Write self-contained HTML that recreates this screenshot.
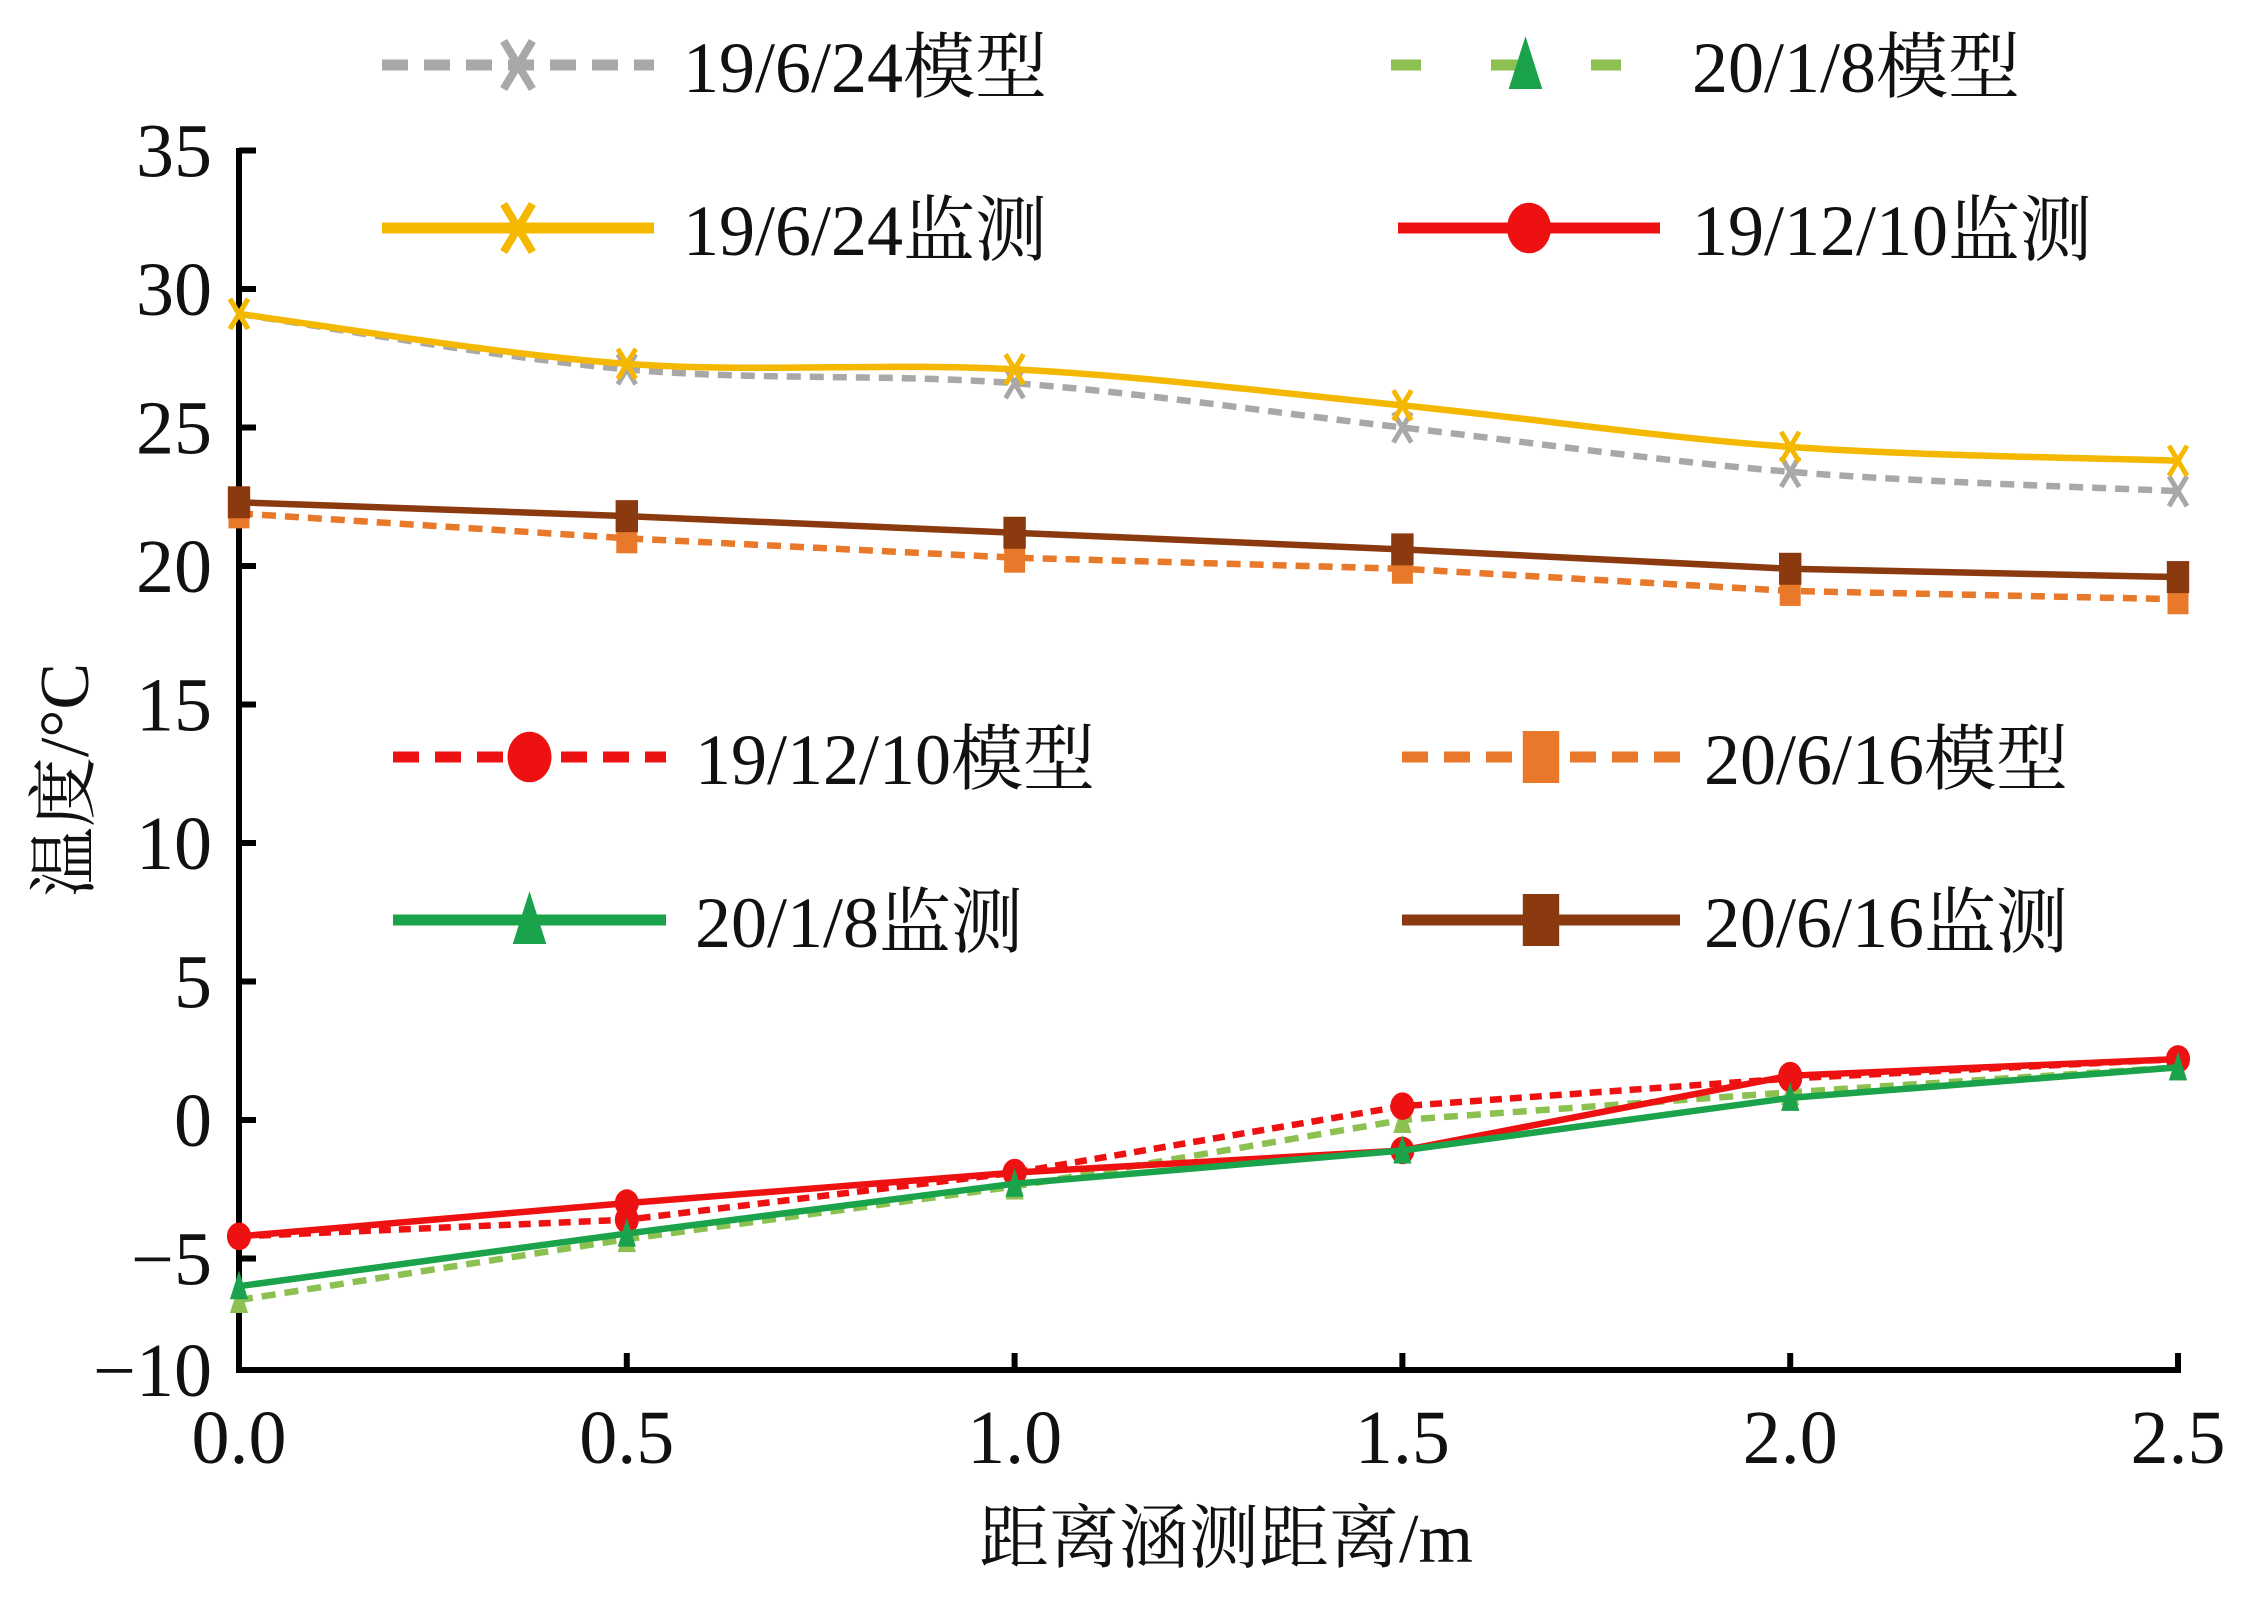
<!DOCTYPE html>
<html><head><meta charset="utf-8"><style>
html,body{margin:0;padding:0;background:#fff;}
svg{display:block;}
text{font-family:"Liberation Serif","Noto Serif CJK SC",serif;fill:#111;}
</style></head><body>
<svg id="chart" width="2265" height="1608" viewBox="0 0 2265 1608" xmlns="http://www.w3.org/2000/svg">
<g id="axes"></g>
<g id="series"></g>
<g id="legend"></g>
</svg>
<script>
const xCats = [0.0, 0.5, 1.0, 1.5, 2.0, 2.5];
const xTickLabels = ["0.0","0.5","1.0","1.5","2.0","2.5"];
const yTicks = [35,30,25,20,15,10,5,0,-5,-10];
const yTickLabels = ["35","30","25","20","15","10","5","0","\u22125","\u221210"];
const s1924mon = [29.1, 27.3, 27.1, 25.8, 24.3, 23.8];
const s1924mod = [29.1, 27.1, 26.6, 25.0, 23.4, 22.7];
const s2016mon = [22.3, 21.8, 21.2, 20.6, 19.9, 19.6];
const s2016mod = [21.9, 21.0, 20.3, 19.9, 19.1, 18.8];
const s1210mon = [-4.2, -3.0, -1.9, -1.1, 1.6, 2.2];
const s1210mod = [-4.2, -3.6, -1.9, 0.5, 1.5, 2.2];
const s0108mon = [-6.0, -4.1, -2.3, -1.1, 0.8, 1.9];
const s0108mod = [-6.5, -4.3, -2.4, 0.0, 1.0, 1.9];

const NS="http://www.w3.org/2000/svg";
const X0=239, X1=2178, AXY=1370;
const X = v => X0 + v/2.5*(X1-X0);
const Y = v => 1120 - v*27.7;
function mk(tag, attrs, parent){const e=document.createElementNS(NS,tag);for(const k in attrs)e.setAttribute(k,attrs[k]);parent.appendChild(e);return e;}
const axes=document.getElementById('axes');
let e;
e=mk('line',{x1:X0,y1:148,x2:X0,y2:AXY+2,stroke:'#000','stroke-width':6},axes);


e=mk('line',{x1:X0-3,y1:AXY,x2:X1+3,y2:AXY,stroke:'#000','stroke-width':6},axes);


yTicks.forEach((v,i)=>{
  const y = v===-10?AXY:Y(v);
  if(v!==-10){
    e=mk('line',{x1:X0,y1:y,x2:X0+17,y2:y,stroke:'#000','stroke-width':6},axes);
    
    
  }
  e=mk('text',{x:212,y:y+26,'font-size':76,'text-anchor':'end'},axes);
  e.textContent=yTickLabels[i];
  
  
});
xCats.forEach((v,i)=>{
  const x=X(v);
  e=mk('line',{x1:x,y1:AXY,x2:x,y2:AXY-17,stroke:'#000','stroke-width':6},axes);
  
  
  e=mk('text',{x:x,y:1463,'font-size':76,'text-anchor':'middle'},axes);
  e.textContent=xTickLabels[i];
  
  
});
e=mk('text',{x:1226,y:1562,'font-size':70,'text-anchor':'middle'},axes);
e.textContent='距离涵测距离/m';


e=mk('text',{x:0,y:0,'font-size':70,'text-anchor':'middle',transform:'translate(88,780) rotate(-90)'},axes);
e.textContent='温度/°C';



function marker(g,type,x,y,color,sz,sw){
  let m;
  if(type==='x'){m=mk('path',{d:`M${x-sz*0.6} ${y-sz}L${x+sz*0.6} ${y+sz}M${x-sz*0.6} ${y+sz}L${x+sz*0.6} ${y-sz}`,stroke:color,'stroke-width':sw||4,fill:'none'},g);}
  else if(type==='o'){m=mk('ellipse',{cx:x,cy:y,rx:sz,ry:sz*1.15,fill:color},g);}
  else if(type==='s'){m=mk('rect',{x:x-sz*0.7,y:y-sz,width:1.4*sz,height:2*sz,fill:color},g);}
  else {m=mk('path',{d:`M${x} ${y-sz*1.2}L${x+sz*0.7} ${y+sz}L${x-sz*0.7} ${y+sz}Z`,fill:color},g);}
  return m;
}
function smoothPath(pts){
  let d=`M${pts[0][0]} ${pts[0][1]}`;
  for(let i=0;i<pts.length-1;i++){
    const p0=pts[i-1]||pts[i],p1=pts[i],p2=pts[i+1],p3=pts[i+2]||p2;
    const c1=[p1[0]+(p2[0]-p0[0])/6,p1[1]+(p2[1]-p0[1])/6];
    const c2=[p2[0]-(p3[0]-p1[0])/6,p2[1]-(p3[1]-p1[1])/6];
    d+=`C${c1[0]} ${c1[1]} ${c2[0]} ${c2[1]} ${p2[0]} ${p2[1]}`;
  }
  return d;
}
const seriesG=document.getElementById('series');
const defs=[
 {d:s1924mod,c:'#a8a8a8',dash:'14 9',m:'x',name:'series-19-6-24-model',ms:15,smooth:true},
 {d:s1924mon,c:'#f5b800',dash:null,m:'x',name:'series-19-6-24-monitor',ms:15,smooth:true},
 {d:s2016mod,c:'#e8782a',dash:'14 9',m:'s',name:'series-20-6-16-model',ms:15},
 {d:s2016mon,c:'#8b3a0f',dash:null,m:'s',name:'series-20-6-16-monitor',ms:16},
 {d:s0108mod,c:'#8cc152',dash:'14 9',m:'t',name:'series-20-1-8-model',ms:13},
 {d:s1210mod,c:'#ee1111',dash:'12 8',m:'o',name:'series-19-12-10-model',ms:12},
 {d:s1210mon,c:'#ee1111',dash:null,m:'o',name:'series-19-12-10-monitor',ms:12},
 {d:s0108mon,c:'#1aa34a',dash:null,m:'t',name:'series-20-1-8-monitor',ms:13},
];
defs.forEach(s=>{
  const g=mk('g',{},seriesG);
  
  
  const pts=s.d.map((v,i)=>[X(xCats[i]),Y(v)]);
  const a={d:s.smooth?smoothPath(pts):('M'+pts.map(p=>p[0]+' '+p[1]).join('L')),fill:'none',stroke:s.c,'stroke-width':6.5};
  if(s.dash)a['stroke-dasharray']=s.dash;
  const pl=mk('path',a,g);
  
  
  s.d.forEach((v,i)=>{
    const m=marker(g,s.m,X(xCats[i]),Y(v),s.c,s.ms,5);
    
    
  });
});

const legG=document.getElementById('legend');
const leg=[
 {x1:382,x2:654,y:65,c:'#a8a8a8',dash:'26 16',m:'x',ms:24,label:'19/6/24模型',tx:683},
 {x1:1391,x2:1660,y:65,c:'#8cc152',dash:'30 70',m:'t',ms:24,mc:'#1aa34a',label:'20/1/8模型',tx:1692},
 {x1:382,x2:654,y:228,c:'#f5b800',dash:null,m:'x',ms:24,label:'19/6/24监测',tx:683},
 {x1:1398,x2:1660,y:228,c:'#ee1111',dash:null,m:'o',ms:22,label:'19/12/10监测',tx:1692},
 {x1:393,x2:666,y:757,c:'#ee1111',dash:'26 16',m:'o',ms:22,label:'19/12/10模型',tx:695},
 {x1:1402,x2:1680,y:757,c:'#e8782a',dash:'26 16',m:'s',ms:26,label:'20/6/16模型',tx:1704},
 {x1:393,x2:666,y:920,c:'#1aa34a',dash:null,m:'t',ms:24,label:'20/1/8监测',tx:695},
 {x1:1402,x2:1680,y:920,c:'#8b3a0f',dash:null,m:'s',ms:26,label:'20/6/16监测',tx:1704},
];
leg.forEach(L=>{
  const g=mk('g',{},legG);
  
  
  const a={x1:L.x1,y1:L.y,x2:L.x2,y2:L.y,stroke:L.c,'stroke-width':11};
  if(L.dash)a['stroke-dasharray']=L.dash;
  const ln=mk('line',a,g);
  
  
  const mm=marker(g,L.m,(L.x1+L.x2)/2,L.y,L.mc||L.c,L.ms,8);
  
  
  const t=mk('text',{x:L.tx,y:L.y+27,'font-size':72},g);
  t.textContent=L.label;
  
  
});
</script>
</body></html>
